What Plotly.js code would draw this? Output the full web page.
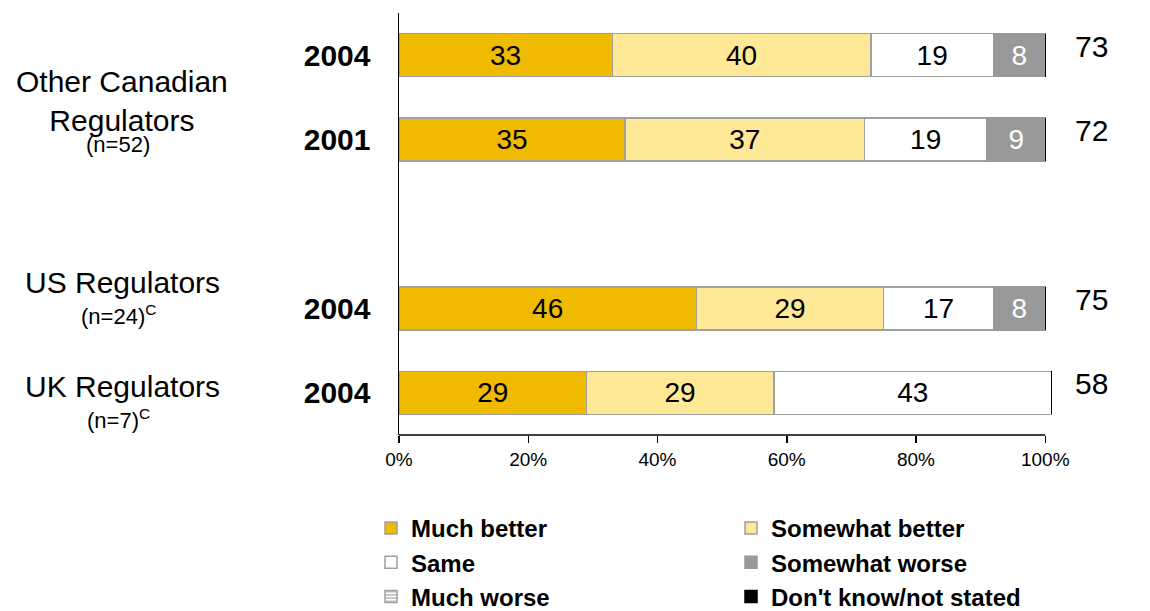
<!DOCTYPE html>
<html><head><meta charset="utf-8">
<script src="https://cdn.plot.ly/plotly-3.0.1.min.js"></script>
<style>html,body{margin:0;padding:0;background:#fff}</style>
</head><body><div id="chart" style="width:1150px;height:611px"></div>
<script>
// ---- data ----
const rowKeys = ['OC2004', 'OC2001', 'US2004', 'UK2004'];
const yearLabels = ['2004', '2001', '2004', '2004'];
const muchBetter = [33, 35, 46, 29];
const somewhatBetter = [40, 37, 29, 29];
const same = [19, 19, 17, 43];
const somewhatWorse = [8, 9, 8, 0];
const muchWorse = [0, 0, 0, 0];
const dontKnow = [0, 0, 0, 0];
const totals = [73, 72, 75, 58];
const groupNames = ['Other Canadian<br>Regulators', 'US Regulators', 'UK Regulators'];
const groupNs = ['(n=52)', '(n=24)<sup>C</sup>', '(n=7)<sup>C</sup>'];
const axisOrder = ['UK2004', 'US2004', 'gap', 'OC2001', 'OC2004'];
const xTicks = [0, 20, 40, 60, 80, 100];

// ---- styling ----
const FONT = 'Liberation Sans, Arial, sans-serif';
const EDGE = '#a0a0a0';
function lbl(v) { return v.map(d => d > 0 ? String(d) : ''); }
function mk(name, vals, color, txtColor, extra) {
  return Object.assign({
    type: 'bar', orientation: 'h', name: name,
    y: rowKeys, x: vals,
    text: lbl(vals), textposition: 'inside', insidetextanchor: 'middle',
    textfont: {family: FONT, size: 28, color: txtColor},
    constraintext: 'none',
    marker: {color: color, line: {color: EDGE, width: 1.5}},
    hoverinfo: 'x+name'
  }, extra || {});
}
const data = [
  mk('Much better', muchBetter, '#efba00', '#000'),
  mk('Somewhat better', somewhatBetter, '#ffe896', '#000'),
  mk('Same', same, '#ffffff', '#000'),
  mk('Somewhat worse', somewhatWorse, '#999999', '#fff', {marker: {color: '#999999', line: {color: '#999999', width: 1.5}}}),
  mk('Much worse', muchWorse, '#ffffff', '#000', {marker: {color: '#ffffff', line: {color: EDGE, width: 1.5}, pattern: {shape: '-', fgcolor: '#999999', bgcolor: '#ffffff', size: 4, solidity: 0.3}}}),
  mk("Don't know/not stated", dontKnow, '#000000', '#fff', {marker: {color: '#000000', line: {color: '#000000', width: 1.5}}})
];

const plotTop = 13, plotBottom = 435, plotH = plotBottom - plotTop;
const plotLeft = 399, plotW = 654;
function py(p) { return (plotBottom - p) / plotH; }
function px(p) { return (p - plotLeft) / plotW; }

const annotations = [];
const groupMainY = [101, 282, 386];
const groupNY = [144, 315, 419];
for (let i = 0; i < groupNames.length; i++) {
  annotations.push({xref: 'paper', yref: 'paper', x: px(122), y: py(groupMainY[i]), xanchor: 'center', yanchor: 'middle',
    text: groupNames[i], showarrow: false, font: {family: FONT, size: 30, color: '#000'}});
  annotations.push({xref: 'paper', yref: 'paper', x: px(118), y: py(groupNY[i]), xanchor: 'center', yanchor: 'middle',
    text: groupNs[i], showarrow: false, font: {family: FONT, size: 22, color: '#000'}});
}
for (let i = 0; i < rowKeys.length; i++) {
  annotations.push({xref: 'paper', yref: 'y', x: px(1091), y: rowKeys[i], yshift: 9, xanchor: 'center', yanchor: 'middle',
    text: String(totals[i]), showarrow: false, font: {family: FONT, size: 30, color: '#000'}});
}

const layout = {
  width: 1150, height: 611,
  margin: {l: plotLeft, r: 1150 - plotLeft - plotW, t: plotTop, b: 611 - plotBottom, pad: 0, autoexpand: false},
  paper_bgcolor: '#fff', plot_bgcolor: '#fff',
  barmode: 'stack', bargap: 0.49,
  showlegend: true,
  xaxis: {range: [0, 101.2], tickvals: xTicks, ticktext: xTicks.map(v => v + '%'),
    showgrid: false, zeroline: false, showline: false, automargin: false,
    ticks: 'outside', ticklen: 7, tickwidth: 1.5, tickcolor: '#000',
    tickfont: {family: 'Liberation Sans Narrow, Arial Narrow, sans-serif', size: 19, color: '#000'}, fixedrange: true},
  yaxis: {type: 'category', categoryorder: 'array', categoryarray: axisOrder, range: [-0.5, 4.5],
    tickvals: rowKeys, ticktext: yearLabels.map(t => '<b>' + t + '</b>'),
    showgrid: false, zeroline: false, showline: true, linecolor: '#000', linewidth: 1.5, automargin: false,
    ticks: '', ticklabelstandoff: 21,
    tickfont: {family: FONT, size: 30, color: '#000'}, fixedrange: true},
  shapes: [{type: 'line', xref: 'x', yref: 'paper', x0: 0, x1: 100, y0: 0, y1: 0, line: {color: '#000', width: 1.5}}],
  legend: {orientation: 'h', x: px(371), xanchor: 'left', y: py(506), yanchor: 'top',
    entrywidth: 315, entrywidthmode: 'pixels', traceorder: 'normal',
    font: {family: FONT, size: 24, color: '#000', weight: 'bold'}, bgcolor: 'rgba(0,0,0,0)'},
  annotations: annotations
};
Plotly.newPlot('chart', data, layout, {displayModeBar: false, staticPlot: true});
</script></body></html>
